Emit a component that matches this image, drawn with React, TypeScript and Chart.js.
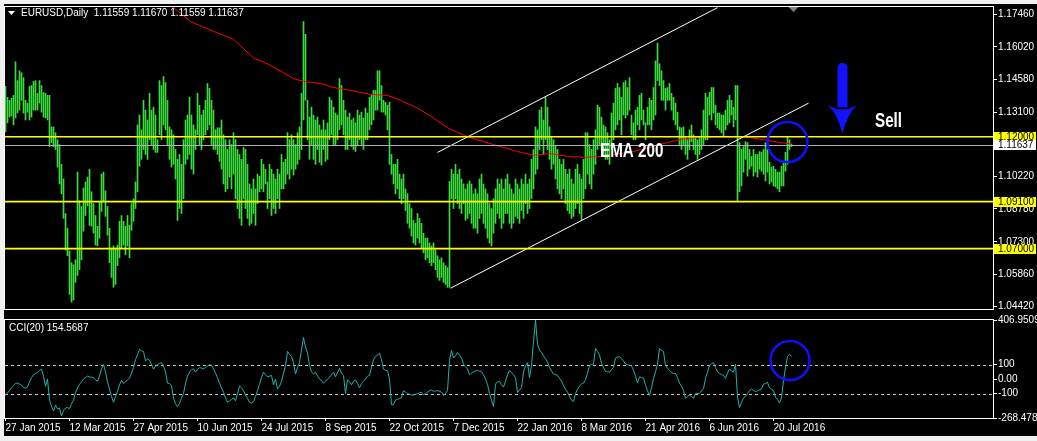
import React, { useEffect, useRef } from "react";
import { Chart, registerables } from "chart.js";

Chart.register(...registerables);

// ---------------- data ----------------
const barHighs: number[] = [
  1.1425, 1.1376, 1.1363, 1.1372, 1.1385, 1.1535, 1.1451, 1.1495, 1.1486, 1.1464,
  1.1363, 1.135, 1.1425, 1.1429, 1.1447, 1.1451, 1.1394, 1.1451, 1.1429, 1.1398,
  1.1394, 1.1385, 1.1385, 1.1244, 1.1244, 1.1218, 1.1187, 1.1165, 1.1077, 1.1011,
  1.0857, 1.0791, 1.069, 1.0637, 1.0628, 1.065, 1.1042, 1.0914, 1.0888, 1.0971,
  1.0998, 1.102, 1.1055, 1.0954, 1.0901, 1.0848, 1.08, 1.091, 1.1033, 1.1042,
  1.0958, 1.0888, 1.0791, 1.0703, 1.0712, 1.0703, 1.0716, 1.0822, 1.0848, 1.0822,
  1.08, 1.0848, 1.0804, 1.0901, 1.0923, 1.0998, 1.1253, 1.1297, 1.1231, 1.1363,
  1.1319, 1.1275, 1.1394, 1.1319, 1.1332, 1.1297, 1.1187, 1.1451, 1.1429, 1.1469,
  1.1442, 1.1363, 1.1244, 1.1231, 1.1209, 1.1143, 1.1099, 1.1121, 1.1077, 1.1187,
  1.1275, 1.1297, 1.1376, 1.1297, 1.1253, 1.1231, 1.1394, 1.1341, 1.1297, 1.1319,
  1.1363, 1.1438, 1.1416, 1.1363, 1.1319, 1.1231, 1.124, 1.124, 1.1275, 1.1209,
  1.1187, 1.1143, 1.1187, 1.1165, 1.1218, 1.1187, 1.1143, 1.1121, 1.1099, 1.1152,
  1.1143, 1.1077, 1.0989, 1.0967, 1.1011, 1.0967, 1.1033, 1.1024, 1.1099, 1.1077,
  1.1055, 1.0998, 1.1077, 1.1055, 1.1033, 1.1011, 1.1055, 1.1033, 1.1121, 1.1086,
  1.1099, 1.1218, 1.1187, 1.1209, 1.1187, 1.1165, 1.1218, 1.1244, 1.1394, 1.1715,
  1.1658, 1.1363, 1.1288, 1.1332, 1.1297, 1.1275, 1.1288, 1.1253, 1.1231, 1.1275,
  1.1231, 1.1262, 1.1376, 1.1363, 1.1332, 1.1306, 1.1297, 1.146, 1.1429, 1.1363,
  1.1319, 1.1288, 1.1306, 1.1275, 1.1284, 1.1262, 1.1319, 1.1297, 1.131, 1.1284,
  1.1328, 1.1306, 1.1376, 1.1385, 1.1407, 1.1407, 1.1495, 1.1495, 1.1429, 1.1363,
  1.1354, 1.1341, 1.1354, 1.1121, 1.1077, 1.1077, 1.1099, 1.1033, 1.1011, 1.1033,
  1.0967, 1.0945, 1.0901, 1.0879, 1.0826, 1.0813, 1.0857, 1.0835, 1.0813, 1.0769,
  1.0747, 1.0747, 1.0725, 1.0712, 1.0725, 1.0694, 1.0668, 1.065, 1.0659, 1.0637,
  1.0624, 1.0615, 1.1, 1.1055, 1.1033, 1.1077, 1.1033, 1.1055, 1.1011, 1.0989,
  1.0967, 1.0989, 1.1002, 1.0989, 1.0945, 1.0967, 1.0945, 1.1011, 1.1033, 1.0989,
  1.0967, 1.0945, 1.0901, 1.0879, 1.0923, 1.0967, 1.1011, 1.0989, 1.1011, 1.0967,
  1.1011, 1.1033, 1.0989, 1.0967, 1.0945, 1.1011, 1.0989, 1.0967, 1.1011, 1.0989,
  1.1033, 1.0989, 1.1011, 1.1099, 1.1143, 1.1244, 1.1231, 1.1319, 1.1332, 1.1275,
  1.1376, 1.1332, 1.1244, 1.12, 1.1187, 1.1161, 1.1143, 1.1099, 1.1077, 1.1099,
  1.1055, 1.1033, 1.1055, 1.1011, 1.0989, 1.1055, 1.1077, 1.1033, 1.1011, 1.1099,
  1.1218, 1.1218, 1.1165, 1.1143, 1.1187, 1.1231, 1.1341, 1.1332, 1.1288, 1.1253,
  1.1244, 1.1218, 1.1187, 1.1306, 1.135, 1.1416, 1.1438, 1.142, 1.1376, 1.1442,
  1.1451, 1.142, 1.1464, 1.1297, 1.1262, 1.1319, 1.1332, 1.1385, 1.1394, 1.1319,
  1.1262, 1.1332, 1.1372, 1.1363, 1.142, 1.1539, 1.1618, 1.1526, 1.1495, 1.1451,
  1.1416, 1.142, 1.1438, 1.1394, 1.1376, 1.135, 1.131, 1.1244, 1.124, 1.1244,
  1.12, 1.1187, 1.1231, 1.1253, 1.1209, 1.12, 1.1187, 1.12, 1.1231, 1.1319,
  1.1394, 1.1376, 1.1398, 1.142, 1.142, 1.1341, 1.1306, 1.1306, 1.1297, 1.1297,
  1.1319, 1.1363, 1.1385, 1.1363, 1.1332, 1.1429, 1.1429, 1.1174, 1.1143, 1.1156,
  1.1178, 1.1174, 1.1143, 1.1112, 1.1143, 1.1121, 1.1121, 1.1134, 1.113, 1.1143,
  1.1174, 1.1143, 1.1086, 1.1064, 1.1068, 1.1055, 1.1042, 1.1042, 1.1068, 1.1086,
  1.113, 1.12, 1.1187, 1.1167,
];

const barLows: number[] = [
  1.1222, 1.1262, 1.1288, 1.1293, 1.1253, 1.1284, 1.1306, 1.1319, 1.1363, 1.1306,
  1.1275, 1.131, 1.1275, 1.1288, 1.1319, 1.1319, 1.1319, 1.135, 1.131, 1.1288,
  1.1284, 1.1275, 1.1156, 1.1174, 1.1156, 1.1143, 1.1064, 1.0989, 1.0945, 1.0835,
  1.0694, 1.0668, 1.0496, 1.0461, 1.047, 1.0549, 1.058, 1.0606, 1.065, 1.0778,
  1.0848, 1.0892, 1.0804, 1.08, 1.0769, 1.0716, 1.0712, 1.0747, 1.0866, 1.091,
  1.0844, 1.076, 1.0637, 1.0571, 1.0527, 1.054, 1.0624, 1.0659, 1.0703, 1.0716,
  1.0672, 1.0712, 1.0659, 1.0782, 1.0822, 1.0879, 1.0954, 1.1068, 1.1099, 1.1143,
  1.1121, 1.1099, 1.1187, 1.1165, 1.1143, 1.113, 1.113, 1.1209, 1.1187, 1.1253,
  1.1231, 1.1165, 1.1099, 1.1064, 1.1077, 1.1011, 1.0826, 1.0879, 1.0857, 1.0923,
  1.1077, 1.1099, 1.1121, 1.1055, 1.1033, 1.1143, 1.1209, 1.1165, 1.1143, 1.1187,
  1.1209, 1.1231, 1.1253, 1.1165, 1.1143, 1.1143, 1.1121, 1.109, 1.1055, 1.0989,
  1.0954, 1.0967, 1.102, 1.0967, 1.1033, 1.0923, 1.0879, 1.0835, 1.0804, 1.0923,
  1.0879, 1.0835, 1.0804, 1.0813, 1.0857, 1.0804, 1.0901, 1.0954, 1.0967, 1.0954,
  1.0989, 1.0879, 1.0923, 1.0848, 1.0879, 1.0857, 1.0923, 1.0879, 1.0967, 1.0967,
  1.0989, 1.1033, 1.1011, 1.1055, 1.1029, 1.1055, 1.1077, 1.1099, 1.1143, 1.1275,
  1.1363, 1.1187, 1.1099, 1.1165, 1.1099, 1.1077, 1.1143, 1.1086, 1.1073, 1.1143,
  1.109, 1.1099, 1.1187, 1.1209, 1.1165, 1.1165, 1.1187, 1.1231, 1.1253, 1.1209,
  1.1143, 1.1143, 1.1187, 1.1156, 1.1143, 1.1134, 1.1165, 1.1187, 1.1165, 1.1143,
  1.1187, 1.1187, 1.1231, 1.1253, 1.1275, 1.1319, 1.1319, 1.1363, 1.131, 1.131,
  1.1297, 1.1231, 1.1077, 1.1033, 1.0989, 1.0945, 1.0967, 1.0923, 1.0901, 1.0923,
  1.087, 1.0813, 1.0791, 1.0756, 1.0725, 1.0716, 1.0747, 1.0725, 1.0703, 1.0681,
  1.065, 1.0659, 1.0637, 1.0624, 1.0637, 1.0606, 1.0571, 1.0558, 1.0571, 1.0549,
  1.054, 1.0527, 1.0527, 1.0923, 1.0879, 1.0923, 1.0901, 1.0879, 1.0857, 1.0901,
  1.0826, 1.0835, 1.0857, 1.0813, 1.0791, 1.0791, 1.0769, 1.0835, 1.0857, 1.0813,
  1.0791, 1.0747, 1.0725, 1.0712, 1.0769, 1.0813, 1.0857, 1.0835, 1.0791, 1.0813,
  1.0857, 1.0857, 1.0813, 1.0791, 1.0813, 1.0844, 1.0835, 1.0813, 1.087, 1.0835,
  1.0901, 1.0857, 1.0879, 1.0923, 1.0967, 1.1033, 1.1055, 1.1143, 1.1187, 1.1121,
  1.1187, 1.1143, 1.1099, 1.1055, 1.1077, 1.1011, 1.0967, 1.0945, 1.0923, 1.0967,
  1.0901, 1.087, 1.0857, 1.0835, 1.0844, 1.0879, 1.0901, 1.0857, 1.0826, 1.0923,
  1.0967, 1.1033, 1.0989, 1.0967, 1.1033, 1.1077, 1.1143, 1.1165, 1.1143, 1.1121,
  1.1099, 1.1099, 1.1077, 1.1143, 1.1187, 1.1231, 1.1253, 1.1275, 1.1209, 1.1297,
  1.1284, 1.1297, 1.1319, 1.1209, 1.1187, 1.1187, 1.1253, 1.1231, 1.1275, 1.1253,
  1.1187, 1.1253, 1.1253, 1.1231, 1.1275, 1.1297, 1.1451, 1.1429, 1.1363, 1.1363,
  1.1319, 1.1363, 1.1363, 1.1319, 1.1275, 1.1253, 1.1231, 1.1165, 1.1143, 1.1165,
  1.1121, 1.1099, 1.1143, 1.1178, 1.1143, 1.1121, 1.1099, 1.1121, 1.1143, 1.1165,
  1.1187, 1.1187, 1.1297, 1.1275, 1.1306, 1.1253, 1.124, 1.1231, 1.1218, 1.12,
  1.1231, 1.1253, 1.1262, 1.1297, 1.1244, 1.1275, 1.0914, 1.0954, 1.098, 1.1042,
  1.1099, 1.1024, 1.1055, 1.1068, 1.1024, 1.1042, 1.102, 1.1055, 1.1046, 1.1033,
  1.1002, 1.1042, 1.0989, 1.0998, 1.098, 1.0976, 1.0967, 1.0954, 1.098, 1.098,
  1.1046, 1.1077, 1.1143, 1.11559,
];

const cciValues: number[] = [
  -113, -95, -80, -60, -45, -30, -28, -35, -42, -60,
  -62, -55, -20, 10, 30, 38, 45, 60, 68, 20,
  -50, 0, -145, -190, -220, -180, -205, -200, -255, -215,
  -200, -195, -205, -170, -145, -93, -60, -36, -20, 0,
  10, 20, 15, 12, 10, -5, -15, 20, 70, 100,
  50, -20, -70, -120, -160, -120, -85, -40, -10, -30,
  -20, -5, 5, 40, 80, 133, 170, 203, 195, 190,
  125, 140, 130, 100, 68, 90, 100, 108, 113, 90,
  50, -28, -30, -45, -133, -170, -190, -170, -130, -100,
  -30, 20, 48, 65, 70, 48, 65, 80, 75, 70,
  80, 90, 100, 95, 70, 40, 10, -28, -60, -90,
  -130, -160, -150, -140, -130, -150, -100, -48, -60, -80,
  -110, -133, -160, -165, -155, -120, -80, -36, 10, 48,
  30, 15, 20, 25, -40, 0, -68, -50, -15, 40,
  92, 190, 170, 155, 113, 35, 80, 113, 200, 286,
  220, 180, 92, 50, 35, 48, 20, 0, -10, -28,
  -15, 0, 10, 30, 48, 15, 45, 74, 40, 25,
  -100, -5, -20, -40, -15, -5, -30, -60, -30, -15,
  0, 20, 25, 80, 133, 155, 165, 177, 133, 68,
  60, 58, 0, -177, -177, -145, -140, -135, -130, -80,
  -90, -100, -105, -110, -110, -105, -100, -95, -90, -110,
  -100, -90, -80, -75, -85, -82, -80, -85, -90, -113,
  -100, -80, 130, 197, 145, 160, 183, 165, 145, 103,
  85, 70, 30, 40, 50, 55, 60, 55, 50, 30,
  0, -35, -100, -145, -190, -35, -20, -15, -40, -55,
  -15, 30, 60, 45, 30, 10, -93, -75, -60, 48,
  90, 113, 10, 92, 260, 406.9509, 240, 200, 183, 160,
  140, 118, 80, 55, 35, 30, 25, 5, -15, -45,
  -70, -90, -120, -145, -155, -100, -70, -48, -35, -28,
  -5, 40, 92, 100, 103, 210, 190, 165, 110, 80,
  52, 50, 48, 65, 80, 145, 150, 155, 140, 125,
  103, 100, 95, 92, 60, 20, -28, 15, 10, 5,
  -40, -80, -113, -60, 5, 50, 103, 210, 200, 190,
  92, 75, 60, 45, 38, 38, 10, -28, -50, -80,
  -132, -120, -110, -120, -132, -100, -100, -100, -80, -68,
  5, 50, 92, 105, 113, 80, 50, 38, 30, 25,
  5, 40, 70, 55, 48, 103, -125, -197, -160, -130,
  -120, -100, -80, -68, -80, -85, -80, -75, -68, -35,
  -30, -23, -60, -70, -80, -125, -140, -165, -130, -10,
  80, 157, 171, 154.5687,
];

const emaBars = [0, 20, 40, 60, 75, 83.5, 92.5, 104, 114, 124, 131, 139, 144, 149, 157.5, 164, 172.5, 182.5, 191, 197.5, 206, 214, 221, 231, 244, 256, 264, 272.5, 281, 289, 299, 314, 331, 339, 349, 364, 372.5, 381, 387.5, 393];
const emaValues = [1.233, 1.216, 1.201, 1.19, 1.182, 1.1781, 1.1715, 1.1671, 1.1636, 1.1552, 1.1526, 1.1486, 1.146, 1.1447, 1.1438, 1.142, 1.1407, 1.1389, 1.1385, 1.1363, 1.1328, 1.1284, 1.124, 1.12, 1.1165, 1.1134, 1.1117, 1.1125, 1.1112, 1.1108, 1.1112, 1.1134, 1.1174, 1.1191, 1.12, 1.12, 1.1196, 1.1183, 1.1174, 1.1168];

const upperTrendBars = [216, 356];
const upperTrendPrices = [1.113, 1.1777];
const lowerTrendBars = [222.5, 401.5];
const lowerTrendPrices = [1.0523, 1.135];

const priceTicks = [1.1746, 1.1602, 1.1458, 1.131, 1.1022, 1.0878, 1.073, 1.0586, 1.0442];
const levelPrices = [1.12, 1.091, 1.07];
const currentPrice = 1.11637;

const cciTicks = [406.9509, 100, 0, -100, -268.4785];
const cciTickLabels = ["406.9509", "100", "0.00", "-100", "-268.4785"];
const cciLevels = [100, -100];

const dateTickBars = [0, 32, 64, 96, 128, 160, 192, 224, 256, 288, 320, 352, 384];
const dateTickLabels = [
  "27 Jan 2015", "12 Mar 2015", "27 Apr 2015", "10 Jun 2015", "24 Jul 2015", "8 Sep 2015",
  "22 Oct 2015", "7 Dec 2015", "22 Jan 2016", "8 Mar 2016", "21 Apr 2016", "6 Jun 2016", "20 Jul 2016",
];

const titleText = "EURUSD,Daily  1.11559 1.11670 1.11559 1.11637";
const cciTitleText = "CCI(20) 154.5687";

// annotation anchors (in data coordinates)
const emaLabel = { text: "EMA 200", bar: 297.25, price: 1.1108 };
const sellLabel = { text: "Sell", bar: 434.75, price: 1.1244 };
const arrowAnchor = { bar: 418.5, top: 1.153, headBase: 1.1341, tip: 1.1213 };
const priceCircle = { bar: 391, price: 1.1176 };
const cciCircle = { bar: 392.25, value: 128 };
const shiftMarkerBar = 394;

// ---------------- layout / style constants ----------------
const X_MIN = -0.25;
const X_MAX = 493.75;
const PRICE_MIN = 1.04301;
const PRICE_MAX = 1.17799;
const CCI_MIN = -268.4785;
const CCI_MAX = 406.9509;
const FONT = "'Liberation Sans', Arial, sans-serif";
const BAR_COLOR = "#3cdc3c";
const AXIS_W = 44;

Chart.defaults.font.family = FONT;
Chart.defaults.font.size = 10;
Chart.defaults.color = "#ffffff";

function hLine(ctx: CanvasRenderingContext2D, x0: number, x1: number, yy: number) {
  ctx.beginPath();
  ctx.moveTo(x0, yy);
  ctx.lineTo(x1, yy);
  ctx.stroke();
}

const mainDecor = {
  id: "mainDecor",
  afterDatasetsDraw(chart: any) {
    const { ctx, chartArea: a, scales } = chart;
    const y = scales.y;
    ctx.save();
    ctx.beginPath();
    ctx.rect(a.left, a.top, a.right - a.left, a.bottom - a.top);
    ctx.clip();
    ctx.strokeStyle = "#b0b0b0";
    ctx.lineWidth = 1;
    hLine(ctx, a.left, a.right, Math.round(y.getPixelForValue(currentPrice)) + 0.5);
    ctx.strokeStyle = "#ffff00";
    ctx.lineWidth = 1.6;
    levelPrices.forEach((p) => hLine(ctx, a.left, a.right, y.getPixelForValue(p)));
    ctx.restore();
  },
  afterDraw(chart: any) {
    const { ctx, chartArea: a, scales } = chart;
    const x = scales.x;
    const y = scales.y;
    ctx.save();
    // frame
    ctx.strokeStyle = "#ffffff";
    ctx.lineWidth = 1;
    ctx.strokeRect(a.left - 0.5, a.top - 0.5, a.right - a.left + 1, a.bottom - a.top + 1);

    // axis price boxes
    ctx.font = `10px ${FONT}`;
    ctx.textAlign = "left";
    ctx.textBaseline = "middle";
    const boxes = [
      ...levelPrices.map((p) => ({ p, bg: "#ffff00" })),
      { p: currentPrice, bg: "#ffffff" },
    ];
    boxes.forEach(({ p, bg }) => {
      const py = y.getPixelForValue(p);
      ctx.fillStyle = bg;
      ctx.fillRect(a.right + 1, Math.round(py - 5), 42, 10);
      ctx.fillStyle = "#000000";
      ctx.fillText(p.toFixed(5), a.right + 5, py + 0.5);
    });

    // title
    ctx.fillStyle = "#ffffff";
    ctx.beginPath();
    ctx.moveTo(8, 11);
    ctx.lineTo(15, 11);
    ctx.lineTo(11.5, 15);
    ctx.closePath();
    ctx.fill();
    ctx.font = `10px ${FONT}`;
    ctx.fillText(titleText, 21, 13.5);

    // shift marker
    const mx = x.getPixelForValue(shiftMarkerBar);
    ctx.fillStyle = "#808080";
    ctx.beginPath();
    ctx.moveTo(mx - 5, a.top);
    ctx.lineTo(mx + 5, a.top);
    ctx.lineTo(mx, a.top + 5);
    ctx.closePath();
    ctx.fill();

    // annotation texts
    ctx.fillStyle = "#ffffff";
    ctx.font = `bold 20px ${FONT}`;
    ctx.textBaseline = "alphabetic";
    [emaLabel, sellLabel].forEach((l) => {
      ctx.save();
      ctx.translate(x.getPixelForValue(l.bar), y.getPixelForValue(l.price));
      ctx.scale(0.76, 1);
      ctx.fillText(l.text, 0, 0);
      ctx.restore();
    });

    // arrow
    const ax = x.getPixelForValue(arrowAnchor.bar);
    const yTop = y.getPixelForValue(arrowAnchor.top);
    const yBase = y.getPixelForValue(arrowAnchor.headBase);
    const yTip = y.getPixelForValue(arrowAnchor.tip);
    ctx.fillStyle = "#1212ff";
    ctx.beginPath();
    ctx.moveTo(ax - 5, yBase + 2);
    ctx.lineTo(ax - 5, yTop + 5);
    ctx.arc(ax, yTop + 5, 5, Math.PI, 0);
    ctx.lineTo(ax + 5, yBase + 2);
    ctx.closePath();
    ctx.fill();
    ctx.beginPath();
    ctx.moveTo(ax - 14.5, yBase);
    ctx.quadraticCurveTo(ax - 5, yBase + 8, ax, yTip);
    ctx.quadraticCurveTo(ax + 5, yBase + 8, ax + 14.5, yBase);
    ctx.lineTo(ax + 5, yBase + 4);
    ctx.lineTo(ax - 5, yBase + 4);
    ctx.closePath();
    ctx.fill();

    // circle
    ctx.strokeStyle = "#1010ff";
    ctx.lineWidth = 2.5;
    ctx.beginPath();
    ctx.arc(x.getPixelForValue(priceCircle.bar), y.getPixelForValue(priceCircle.price), 20, 0, Math.PI * 2);
    ctx.stroke();
    ctx.restore();
  },
};

const cciDecor = {
  id: "cciDecor",
  beforeDatasetsDraw(chart: any) {
    const { ctx, chartArea: a, scales } = chart;
    ctx.save();
    ctx.strokeStyle = "#c8c8c8";
    ctx.lineWidth = 1;
    ctx.setLineDash([3, 3]);
    cciLevels.forEach((v) => hLine(ctx, a.left, a.right, Math.round(scales.y.getPixelForValue(v)) + 0.5));
    ctx.restore();
  },
  afterDraw(chart: any) {
    const { ctx, chartArea: a, scales } = chart;
    ctx.save();
    ctx.strokeStyle = "#ffffff";
    ctx.lineWidth = 1;
    ctx.strokeRect(a.left - 0.5, a.top - 0.5, a.right - a.left + 1, a.bottom - a.top + 1);
    ctx.fillStyle = "#ffffff";
    ctx.font = `10px ${FONT}`;
    ctx.textAlign = "left";
    ctx.textBaseline = "middle";
    ctx.fillText(cciTitleText, 9, a.top + 8.5);
    ctx.strokeStyle = "#1010ff";
    ctx.lineWidth = 2.5;
    ctx.beginPath();
    ctx.arc(scales.x.getPixelForValue(cciCircle.bar), scales.y.getPixelForValue(cciCircle.value), 19.5, 0, Math.PI * 2);
    ctx.stroke();
    ctx.restore();
  },
};

export default function App() {
  const mainRef = useRef<HTMLCanvasElement>(null);
  const cciRef = useRef<HTMLCanvasElement>(null);

  useEffect(() => {
    document.body.style.margin = "0";
    const n = Math.min(barHighs.length, barLows.length);
    const bars = [];
    for (let i = 0; i < n; i++) bars.push({ x: i, y: [barLows[i], barHighs[i]] });

    const mainChart = new Chart(mainRef.current as HTMLCanvasElement, {
      type: "bar",
      data: {
        datasets: [
          {
            type: "bar",
            label: "EURUSD",
            data: bars as any,
            backgroundColor: BAR_COLOR,
            borderWidth: 0,
            barThickness: 1,
            grouped: false,
            order: 3,
          } as any,
          {
            type: "line",
            label: "EMA 200",
            data: emaBars.map((b, k) => ({ x: b, y: emaValues[k] })),
            borderColor: "#ff0000",
            borderWidth: 1,
            pointRadius: 0,
            tension: 0,
            clip: 0,
            order: 2,
          } as any,
          {
            type: "line",
            label: "upper",
            data: upperTrendBars.map((b, k) => ({ x: b, y: upperTrendPrices[k] })),
            borderColor: "#ffffff",
            borderWidth: 1,
            pointRadius: 0,
            clip: 0,
            order: 1,
          } as any,
          {
            type: "line",
            label: "lower",
            data: lowerTrendBars.map((b, k) => ({ x: b, y: lowerTrendPrices[k] })),
            borderColor: "#ffffff",
            borderWidth: 1,
            pointRadius: 0,
            clip: 0,
            order: 1,
          } as any,
        ],
      },
      options: {
        responsive: false,
        animation: false,
        events: [],
        layout: { padding: { left: 5, right: 0, top: 5, bottom: 4 }, autoPadding: false } as any,
        plugins: { legend: { display: false }, tooltip: { enabled: false } },
        scales: {
          x: { type: "linear", display: false, min: X_MIN, max: X_MAX, offset: false },
          y: {
            type: "linear",
            position: "right",
            min: PRICE_MIN,
            max: PRICE_MAX,
            beginAtZero: false,
            afterBuildTicks: (s: any) => {
              s.ticks = priceTicks.map((v) => ({ value: v }));
            },
            afterFit: (s: any) => {
              s.width = AXIS_W;
            },
            ticks: {
              autoSkip: false,
              color: "#ffffff",
              padding: 1,
              font: { size: 10, family: FONT },
              callback: (v: any) => Number(v).toFixed(5),
            },
            grid: { drawOnChartArea: false, color: "#ffffff", tickLength: 4 },
            border: { display: false },
          },
        },
      } as any,
      plugins: [mainDecor],
    });

    const cciChart = new Chart(cciRef.current as HTMLCanvasElement, {
      type: "line",
      data: {
        datasets: [
          {
            label: "CCI(20)",
            data: cciValues.map((v, i) => ({ x: i, y: v })),
            borderColor: "#20b2aa",
            borderWidth: 1,
            pointRadius: 0,
            tension: 0,
            clip: 0,
          },
        ],
      },
      options: {
        responsive: false,
        animation: false,
        events: [],
        layout: { padding: { left: 5, right: 0, top: 2, bottom: 0 }, autoPadding: false } as any,
        plugins: { legend: { display: false }, tooltip: { enabled: false } },
        scales: {
          x: {
            type: "linear",
            min: X_MIN,
            max: X_MAX,
            offset: false,
            afterBuildTicks: (s: any) => {
              s.ticks = dateTickBars.map((v) => ({ value: v }));
            },
            afterFit: (s: any) => {
              s.height = 23;
            },
            ticks: {
              autoSkip: false,
              maxRotation: 0,
              minRotation: 0,
              align: "start",
              color: "#ffffff",
              padding: 1,
              font: { size: 10, family: FONT },
              callback: (v: any) => {
                const k = dateTickBars.indexOf(Number(v));
                return k >= 0 ? dateTickLabels[k] : "";
              },
            },
            grid: { drawOnChartArea: false, color: "#ffffff", tickLength: 3 },
            border: { display: false },
          },
          y: {
            type: "linear",
            position: "right",
            min: CCI_MIN,
            max: CCI_MAX,
            afterBuildTicks: (s: any) => {
              s.ticks = cciTicks.map((v) => ({ value: v }));
            },
            afterFit: (s: any) => {
              s.width = AXIS_W;
            },
            ticks: {
              autoSkip: false,
              color: "#ffffff",
              padding: 1,
              font: { size: 10, family: FONT },
              callback: (v: any) => {
                const k = cciTicks.indexOf(Number(v));
                return k >= 0 ? cciTickLabels[k] : String(v);
              },
            },
            grid: { drawOnChartArea: false, color: "#ffffff", tickLength: 4 },
            border: { display: false },
          },
        },
      } as any,
      plugins: [cciDecor],
    });

    return () => {
      mainChart.destroy();
      cciChart.destroy();
    };
  }, []);

  return (
    <div
      style={{
        position: "absolute",
        left: 0,
        top: 0,
        width: 1037,
        height: 441,
        background: "#f0f0f0",
        overflow: "hidden",
      }}
    >
      <div style={{ position: "absolute", left: 4, top: 4, width: 1033, height: 432, background: "#000000" }} />
      <canvas
        ref={mainRef}
        width={1037}
        height={316}
        style={{ position: "absolute", left: 0, top: 0, width: 1037, height: 316 }}
      />
      <canvas
        ref={cciRef}
        width={1037}
        height={128}
        style={{ position: "absolute", left: 0, top: 313, width: 1037, height: 128 }}
      />
    </div>
  );
}
